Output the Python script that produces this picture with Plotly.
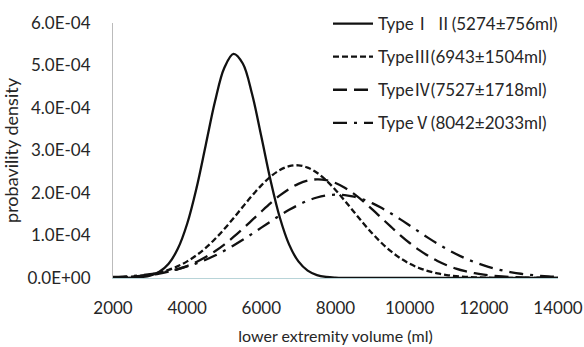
import plotly.graph_objects as go

# x sampling (ml)
volume_ml = list(range(2000, 14001, 250))

# probability density values (units of 1e-4)
type_1_2 = [0.000, 0.002, 0.006, 0.020, 0.057, 0.147, 0.336, 0.692, 1.276, 2.109,
            3.125, 4.151, 4.942, 5.274, 5.046, 4.328, 3.328, 2.293, 1.417, 0.785,
            0.390, 0.173, 0.069, 0.025, 0.008, 0.002, 0.000, 0.000, 0.000, 0.000,
            0.000, 0.000, 0.000, 0.000, 0.000, 0.000, 0.000, 0.000, 0.000, 0.000,
            0.000, 0.000, 0.000, 0.000, 0.000, 0.000, 0.000, 0.000, 0.000]
type_3 = [0.012, 0.020, 0.034, 0.054, 0.085, 0.130, 0.193, 0.279, 0.391, 0.534,
          0.709, 0.917, 1.152, 1.408, 1.675, 1.937, 2.179, 2.386, 2.540, 2.631,
          2.651, 2.598, 2.477, 2.297, 2.072, 1.819, 1.553, 1.289, 1.041, 0.818,
          0.625, 0.465, 0.336, 0.236, 0.162, 0.108, 0.070, 0.044, 0.027, 0.016,
          0.009, 0.005, 0.003, 0.002, 0.001, 0.000, 0.000, 0.000, 0.000]
type_4 = [0.013, 0.021, 0.032, 0.049, 0.072, 0.105, 0.149, 0.207, 0.282, 0.377,
          0.492, 0.629, 0.787, 0.965, 1.158, 1.360, 1.564, 1.762, 1.942, 2.096,
          2.215, 2.292, 2.322, 2.303, 2.236, 2.125, 1.978, 1.802, 1.608, 1.404,
          1.201, 1.005, 0.824, 0.661, 0.520, 0.400, 0.301, 0.222, 0.160, 0.113,
          0.078, 0.053, 0.035, 0.023, 0.015, 0.009, 0.006, 0.003, 0.002]
type_5 = [0.024, 0.034, 0.048, 0.066, 0.091, 0.122, 0.162, 0.211, 0.272, 0.345,
          0.430, 0.529, 0.641, 0.764, 0.898, 1.039, 1.185, 1.330, 1.472, 1.603,
          1.720, 1.819, 1.894, 1.942, 1.962, 1.952, 1.913, 1.847, 1.756, 1.645,
          1.517, 1.379, 1.234, 1.088, 0.945, 0.808, 0.681, 0.565, 0.462, 0.372,
          0.295, 0.230, 0.177, 0.134, 0.100, 0.074, 0.053, 0.038, 0.027]

NUM_FONT = "font-family:'Noto Sans CJK SC'"
series_names = [
    f"Type<span style=\"{NUM_FONT}\">Ⅰ Ⅱ</span>(5274±756ml)",
    f"Type<span style=\"{NUM_FONT}\">Ⅲ</span>(6943±1504ml)",
    f"Type<span style=\"{NUM_FONT}\">Ⅳ</span>(7527±1718ml)",
    f"Type<span style=\"{NUM_FONT}\">Ⅴ</span>(8042±2033ml)",
]
series_values = [type_1_2, type_3, type_4, type_5]
dashes = ["solid", "6px,3px", "14px,7px", "14px,7px,3px,7px"]

x_ticks = [2000, 4000, 6000, 8000, 10000, 12000, 14000]
y_ticks = [0, 1e-4, 2e-4, 3e-4, 4e-4, 5e-4, 6e-4]
y_tick_labels = ["0.0E+00", "1.0E-04", "2.0E-04", "3.0E-04", "4.0E-04", "5.0E-04", "6.0E-04"]

FONT = "Lato"
TXT = "#262626"

fig = go.Figure()
for i, (name, vals, dash) in enumerate(zip(series_names, series_values, dashes)):
    fig.add_trace(go.Scatter(
        x=volume_ml, y=[v * 1e-4 for v in vals], mode="lines", name=name,
        line=dict(color="#111111", width=2.3, dash=dash, shape="spline"),
        legendgroup=f"g{i}",
    ))

fig.update_layout(
    width=584, height=347,
    margin=dict(l=113, r=26, t=23, b=69, autoexpand=False),
    paper_bgcolor="white", plot_bgcolor="white",
    font=dict(family=FONT, size=17, color=TXT),
    showlegend=True,
    legend=dict(x=(328 - 113) / 445, y=1 + 17 / 255,
                xanchor="left", yanchor="top",
                bgcolor="rgba(0,0,0,0)", font=dict(size=17, family=FONT, color=TXT),
                tracegroupgap=8, itemwidth=40),
    xaxis=dict(range=[2000, 14000], tickvals=x_ticks, ticktext=[str(t) for t in x_ticks],
               showgrid=False, zeroline=False, showline=True, linecolor="#b8d4d8", linewidth=1,
               ticks="", ticklabelstandoff=15, tickfont=dict(size=17), tickangle=0,
               title=dict(text="lower extremity volume (ml)", font=dict(size=16), standoff=13)),
    yaxis=dict(range=[0, 6e-4], tickvals=y_ticks, ticktext=y_tick_labels,
               showgrid=False, zeroline=False, showline=True, linecolor="#bbbbbb", linewidth=1,
               ticks="", ticklabelstandoff=18, tickfont=dict(size=17),
               title=dict(text="probavility density", font=dict(size=18), standoff=4)),
)

fig.write_html("out.html")
